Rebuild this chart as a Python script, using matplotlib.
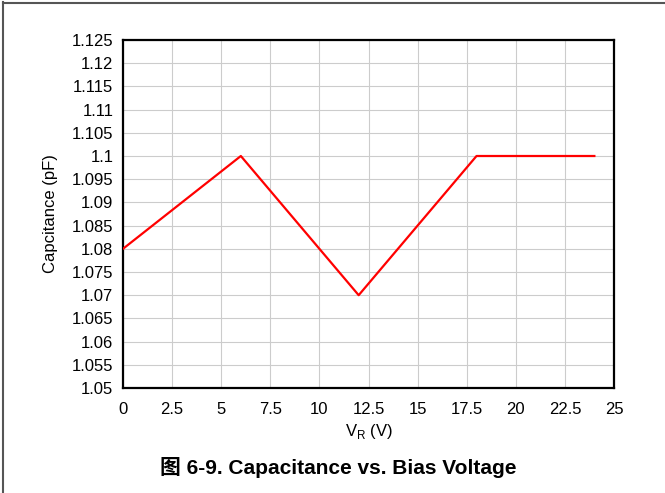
import matplotlib
matplotlib.use("Agg")
import matplotlib.pyplot as plt
from matplotlib.lines import Line2D
import numpy as np

plt.rcParams['font.family'] = ['Liberation Sans', 'Noto Sans CJK SC', 'DejaVu Sans']

# Data
bias_v = [0, 6, 12, 18, 24]
cap_pf = [1.08, 1.10, 1.07, 1.10, 1.10]
x_ticks = [0, 2.5, 5, 7.5, 10, 12.5, 15, 17.5, 20, 22.5, 25]
x_tick_labels = ['0', '2.5', '5', '7.5', '10', '12.5', '15', '17.5', '20', '22.5', '25']
y_ticks = [1.05, 1.055, 1.06, 1.065, 1.07, 1.075, 1.08, 1.085, 1.09, 1.095,
           1.1, 1.105, 1.11, 1.115, 1.12, 1.125]
y_tick_labels = ['1.05', '1.055', '1.06', '1.065', '1.07', '1.075', '1.08', '1.085',
                 '1.09', '1.095', '1.1', '1.105', '1.11', '1.115', '1.12', '1.125']
title = '图 6-9. Capacitance vs. Bias Voltage'

fig = plt.figure(figsize=(6.65, 4.93), dpi=100)
ax = fig.add_axes([123/665, 1-388/493, (614-123)/665, (388-40)/493])

ax.plot(bias_v, cap_pf, color='#ff0000', linewidth=1.6, zorder=3)

ax.set_xlim(0, 25)
ax.set_ylim(1.05, 1.125)
ax.set_xticks(x_ticks)
ax.set_xticklabels(x_tick_labels)
ax.set_yticks(y_ticks)
ax.set_yticklabels(y_tick_labels)
ax.tick_params(axis='both', length=0, labelsize=12, colors='black')
ax.tick_params(axis='x', pad=10)
ax.tick_params(axis='y', pad=7)
ax.grid(True, color='#cccccc', linewidth=0.8, zorder=0)
ax.set_axisbelow(True)
for s in ax.spines.values():
    s.set_linewidth(1.6)
    s.set_color('black')

ax.set_xlabel('V$_\\mathregular{R}$ (V)', fontsize=12, labelpad=4)
ax.set_ylabel('Capcitance (pF)', fontsize=12, labelpad=10)

fig.text(338/665, 1-467/493, title, ha='center', va='center', fontsize=15,
         fontweight='bold')

# outer frame lines (left and top)
fig.add_artist(Line2D([3/665, 3/665], [0, 1-2/493], transform=fig.transFigure,
                      color='#555555', linewidth=1.5))
fig.add_artist(Line2D([3/665, 1], [1-2.5/493, 1-2.5/493], transform=fig.transFigure,
                      color='#555555', linewidth=1.5))

fig.savefig('out.png', dpi=100)
